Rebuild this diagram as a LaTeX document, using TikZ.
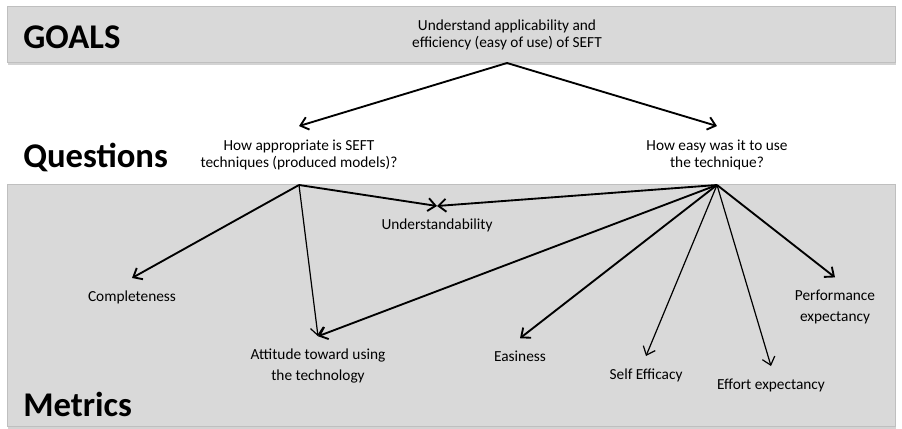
\documentclass[tikz,border=0pt]{standalone}
\usepackage{fontspec}
\setmainfont{Carlito}
\usetikzlibrary{arrows.meta, shadows}
\tikzstyle{band} = [draw=black!25, fill=black!15,
  drop shadow={opacity=0.35, shadow xshift=1pt, shadow yshift=-2.5pt}]
\tikzstyle{heading} = [anchor=west, inner sep=0pt,
  font=\fontsize{26}{30}\selectfont\bfseries]
\tikzstyle{goal} = [align=center, font=\fontsize{11.5}{13}\selectfont]
\tikzstyle{question} = [goal, outer sep=7pt]
\tikzstyle{metric} = [align=center, font=\fontsize{11.5}{16}\selectfont, outer sep=6pt]
\tikzstyle{arrow} = [line width=1.4pt, -{Straight Barb[length=2mm, width=3.4mm]}]
\tikzstyle{thin arrow} = [arrow, line width=0.9pt]

\begin{document}
\begin{tikzpicture}[x=0.75pt, y=-0.75pt]
    \useasboundingbox (0,0) rectangle (902,428);
    % the two grey bands
    \draw[band] (7,6) rectangle (895,62);
    \draw[band] (7,184) rectangle (895,426);

    \node[heading] (goalslabel) at (23,37) {GOALS};
    \node[heading] (questionslabel) at (23,157) {Questions};
    \node[heading] (metricslabel) at (23,404) {Metrics};

    % goal and questions
    \node[goal] (goal) at (507,35) {Understand applicability and\\ efficiency (easy of use) of SEFT};
    \node[question] (q1) at (299,155) {How appropriate is SEFT\\ techniques (produced models)?};
    \node[question] (q2) at (717,155) {How easy was it to use\\ the technique?};
    \coordinate (goalhub) at (507,63);
    \coordinate (q1hub) at (299,185);
    \coordinate (q2hub) at (717,185);

    % metrics
    \node[metric] (understand) at (437,225) {Understandability};
    \node[metric] (complete) at (132,297) {Completeness};
    \node[metric] (attitude) at (318,366) {Attitude toward using\\ the technology};
    \node[metric] (easiness) at (520,356) {Easiness};
    \node[metric] (selfeff) at (646,375) {Self Efficacy};
    \node[metric] (effort) at (771,385) {Effort expectancy};
    \node[metric] (perform) at (835,307) {Performance\\ expectancy};

    \draw[arrow] (goalhub) -- (q1.north);
    \draw[arrow] (goalhub) -- (q2.north);

    \draw[arrow] (q1hub) -- (complete.north);
    \draw[thin arrow] (q1hub) -- (attitude.north);
    \draw[arrow] (q1hub) -- (understand.north);

    \draw[arrow] (q2hub) -- (understand.north);
    \draw[arrow] (q2hub) -- (attitude.north);
    \draw[arrow] (q2hub) -- (easiness.north);
    \draw[thin arrow] (q2hub) -- (selfeff.north);
    \draw[thin arrow] (q2hub) -- (effort.north);
    \draw[arrow] (q2hub) -- (perform.north);
\end{tikzpicture}
\end{document}
